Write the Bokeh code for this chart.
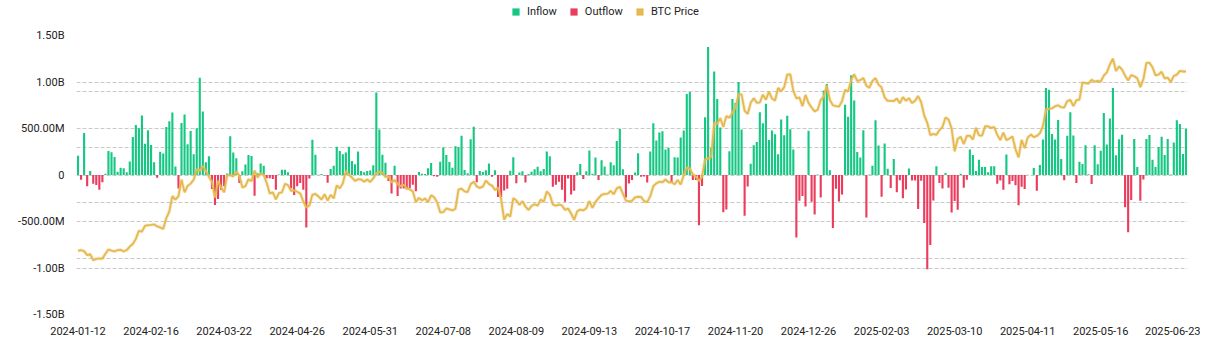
import numpy as np
import pandas as pd
from bokeh.plotting import figure
from bokeh.layouts import column
from bokeh.models import (ColumnDataSource, Range1d, FixedTicker, Grid, Legend, LegendItem)
from bokeh.embed import file_html
from bokeh.resources import INLINE

# ---------------- data ----------------
# US market trading days (categories of the x axis)
market_holidays = ["2024-01-15", "2024-02-19", "2024-03-29", "2024-05-27", "2024-06-19",
                   "2024-07-04", "2024-09-02", "2024-11-28", "2024-12-25", "2025-01-01",
                   "2025-01-09", "2025-01-20", "2025-02-17", "2025-04-18", "2025-05-26",
                   "2025-06-19"]
dates = pd.bdate_range("2024-01-12", "2025-06-27", freq="C",
                       holidays=market_holidays).strftime("%Y-%m-%d").tolist()

# daily net flow, million USD (positive = inflow, negative = outflow)
net_flow_musd = [
    206, -50, 452, -122, 43, -93, -108, -158, -79, 14,
    258, 244, 194, 36, 79, 72, 29, 144, 409, 538,
    503, 639, 337, 481, 323, 136, -29, 251, 230, 517,
    578, 673, 92, -144, 560, 650, 330, 474, 223, 503,
    1045, 684, 136, 201, -151, -323, -258, -158, -122, 15,
    418, 243, 179, -86, 40, 113, 214, 203, -223, 18,
    124, 100, -36, -36, -43, -158, 5, 57, 57, 29,
    -144, -215, -122, -86, -158, -564, -38, 378, 217, 3,
    12, -5, -84, 65, 100, 303, 257, 222, 241, 305,
    151, 115, 252, 43, 29, 43, 49, 105, 887, 488,
    217, 131, -65, -200, 100, -226, -146, -146, -152, -140,
    -106, -175, 31, 14, 11, 73, 129, -14, -20, 143,
    295, 216, 140, 79, 310, 301, 422, 53, 19, 384,
    520, -78, 44, 31, 52, 124, -18, 50, -237, -237,
    -168, -148, 45, 192, -90, 28, 40, -81, 11, 36,
    62, 88, 39, 65, 252, 202, -127, -105, -72, -158,
    -288, -37, -211, -170, 29, 117, -44, 39, 263, 13,
    187, -53, 158, 92, 5, 136, 106, 366, 494, 61,
    -242, -92, -54, 26, 235, -19, -15, -81, 254, 556,
    371, 458, 470, 274, 294, -79, 192, 188, 402, 479,
    870, 893, -55, -55, -541, -117, 622, 1376, 294, 1114,
    817, 510, -401, -370, 256, 816, 773, 1000, 490, -438,
    -123, 120, 320, 354, 676, 556, 766, 376, 479, 438,
    223, 597, 428, 637, 493, 275, -672, -277, -226, -338,
    475, -287, -426, 5, -242, 908, 978, 52, -569, -149,
    -284, -209, 755, 626, 1072, 802, 248, 188, 480, -458,
    5, 100, 589, 318, -235, 340, 66, -140, 171, -186,
    -56, -251, -156, 71, -60, -60, -365, -62, -517, -1014,
    -754, -275, 94, -86, -144, 22, -136, -402, -280, -373,
    13, -136, -50, 273, 215, 43, 165, 86, 86, 29,
    93, 93, -93, -60, -158, 221, -100, -65, -109, -326,
    -127, -150, 2, 1, 76, -170, 107, 381, 936, 917,
    442, 381, 591, 173, -56, 422, 675, 425, -86, 142,
    117, 321, 7, -96, 319, 115, 260, 667, 329, 607,
    935, 212, 385, 433, -347, -616, -268, 386, 87, -278,
    -48, 386, 431, 165, 86, 302, 412, 216, 388, 6,
    350, 589, 548, 227, 501,
]

# BTC price, thousand USD
btc_price_k = [
    42.8, 43.1, 42.7, 41.3, 41.6, 39.5, 39.9, 40.1, 40.0, 41.8,
    43.3, 42.9, 42.6, 43.1, 43.2, 42.6, 43.1, 44.3, 45.3, 47.1,
    50.0, 49.7, 51.8, 52.0, 52.1, 52.3, 51.6, 51.2, 50.7, 54.5,
    57.0, 62.4, 61.2, 62.4, 68.3, 63.8, 66.1, 66.9, 68.3, 72.1,
    71.5, 73.1, 71.4, 69.4, 67.6, 61.9, 67.9, 65.5, 63.8, 69.9,
    69.9, 69.5, 71.3, 69.7, 65.5, 66.0, 68.5, 67.8, 71.6, 69.1,
    70.6, 70.0, 67.1, 63.4, 63.8, 61.3, 63.5, 63.8, 66.8, 66.4,
    64.3, 64.5, 64.0, 63.4, 60.6, 58.3, 59.1, 62.9, 63.2, 62.3,
    61.2, 63.1, 60.8, 62.9, 61.6, 66.3, 65.2, 67.0, 71.4, 70.1,
    69.1, 67.9, 68.5, 68.4, 67.6, 68.4, 67.5, 68.8, 70.6, 71.1,
    70.8, 69.3, 69.5, 67.3, 68.2, 66.8, 66.0, 66.5, 65.2, 64.9,
    64.1, 60.3, 61.8, 60.9, 61.6, 60.3, 62.7, 62.0, 60.2, 56.6,
    56.7, 58.0, 57.7, 57.3, 57.9, 64.8, 65.1, 64.1, 63.9, 66.7,
    67.6, 65.9, 65.4, 65.8, 68.0, 66.8, 66.2, 64.6, 65.4, 61.4,
    54.0, 56.0, 55.1, 61.7, 60.9, 59.3, 60.6, 58.7, 57.5, 58.9,
    59.5, 59.0, 61.2, 60.4, 64.1, 62.9, 59.4, 59.0, 59.4, 59.1,
    57.5, 58.0, 56.2, 53.9, 57.0, 57.6, 57.3, 58.1, 60.6, 58.2,
    60.3, 61.7, 62.9, 63.2, 63.3, 64.3, 63.1, 65.2, 65.8, 63.3,
    60.8, 60.6, 60.7, 62.0, 62.2, 62.1, 60.6, 60.3, 62.4, 66.0,
    67.0, 67.6, 67.4, 68.4, 67.4, 67.4, 66.7, 68.2, 66.6, 69.9,
    72.7, 72.3, 70.2, 69.5, 67.8, 69.4, 75.6, 75.9, 76.5, 88.7,
    88.3, 90.4, 87.2, 91.1, 90.5, 92.3, 94.3, 98.9, 98.9, 93.0,
    91.9, 95.9, 97.5, 95.9, 96.0, 98.8, 97.0, 99.9, 97.4, 96.7,
    101.2, 100.0, 101.5, 106.0, 106.1, 100.2, 97.5, 97.8, 94.7, 98.7,
    95.8, 94.2, 92.8, 93.4, 96.9, 98.1, 102.1, 96.9, 95.0, 94.7,
    94.5, 96.5, 100.5, 99.9, 104.1, 106.1, 103.7, 104.0, 104.8, 102.0,
    101.3, 103.7, 104.7, 102.4, 101.4, 97.8, 96.6, 96.6, 96.5, 97.4,
    95.7, 97.9, 96.6, 97.5, 95.8, 96.6, 98.3, 96.1, 91.4, 88.7,
    84.3, 84.7, 84.4, 86.1, 87.2, 90.6, 89.9, 86.7, 78.5, 82.9,
    83.7, 81.1, 84.0, 84.1, 82.7, 86.9, 84.2, 84.1, 87.5, 87.4,
    86.9, 87.2, 84.4, 82.5, 85.2, 82.5, 83.1, 83.8, 79.2, 76.3,
    82.6, 79.6, 83.4, 84.5, 83.6, 84.0, 84.9, 87.5, 93.4, 93.7,
    93.9, 94.6, 95.0, 94.3, 94.2, 96.5, 96.9, 94.7, 96.8, 97.0,
    103.2, 102.9, 102.8, 104.1, 103.5, 103.7, 103.5, 105.6, 106.8, 109.6,
    111.7, 107.3, 108.9, 107.8, 105.6, 103.9, 105.8, 105.4, 104.7, 101.5,
    104.3, 110.2, 110.2, 108.6, 105.7, 106.0, 107.0, 104.6, 104.9, 103.3,
    105.5, 106.0, 107.3, 107.1, 107.1,
]

x_tick_labels = ["2024-01-12", "2024-02-16", "2024-03-22", "2024-04-26", "2024-05-31",
                 "2024-07-08", "2024-08-09", "2024-09-13", "2024-10-17", "2024-11-20",
                 "2024-12-26", "2025-02-03", "2025-03-10", "2025-04-11", "2025-05-16",
                 "2025-06-23"]
y_tick_values = [-1500, -1000, -500, 0, 500, 1000, 1500]
y_tick_labels = ["-1.50B", "-1.00B", "-500.00M", "0", "500.00M", "1.00B", "1.50B"]
price_grid_values = [20000, 40000, 60000, 80000, 100000, 120000]
series_names = ["Inflow", "Outflow", "BTC Price"]

if not (len(dates) == len(net_flow_musd) == len(btc_price_k)):
    raise SystemExit(f"length mismatch {len(dates)} {len(net_flow_musd)} {len(btc_price_k)}")

# ---------------- styling ----------------
GREEN = "#16C784"
RED = "#EA3D5E"
GOLD = "#E6B94E"
GRID = "#c9c9c9"
TEXT = "#222222"
FONT = "Roboto"
W = 1200
LEGEND_H = 25

n = len(dates)
flow = np.array(net_flow_musd, dtype=float)
src = ColumnDataSource(dict(
    x=np.arange(n),
    inflow=np.where(flow > 0, flow, 0.0),
    outflow=np.where(flow < 0, flow, 0.0),
    price=np.array(btc_price_k) * 1000.0,
))

# ---------- legend strip ----------
lg = figure(width=W, height=LEGEND_H, output_backend="svg", toolbar_location=None,
            x_range=Range1d(0, 1), y_range=Range1d(0, 1),
            x_axis_location=None, y_axis_location=None, min_border=0)
lg.outline_line_color = None
lg.grid.visible = False
keys = [lg.vbar(x="x", top=col, width=0.7, source=src, fill_color=c, line_color=None,
                visible=False)
        for col, c in (("inflow", GREEN), ("outflow", RED), ("price", GOLD))]
legend = Legend(items=[LegendItem(label=nm, renderers=[r]) for nm, r in zip(series_names, keys)],
                orientation="horizontal", location=(435, LEGEND_H - 18),
                border_line_color=None, background_fill_alpha=0,
                padding=0, margin=0, spacing=12, label_standoff=7,
                glyph_width=9, glyph_height=9, label_height=12,
                label_text_font=FONT, label_text_font_size="11px",
                label_text_color=TEXT)
lg.add_layout(legend)

# ---------- main chart ----------
p = figure(width=W, height=356 - LEGEND_H, output_backend="svg", toolbar_location=None,
           x_range=Range1d(-0.5, n - 0.5), y_range=Range1d(-1500, 1500),
           min_border_left=76, min_border_right=13, min_border_top=35 - LEGEND_H,
           min_border_bottom=42)
p.extra_y_ranges = {"price": Range1d(20000, 120000)}
p.outline_line_color = None
p.xgrid.visible = False

p.ygrid.ticker = FixedTicker(ticks=y_tick_values)
p.ygrid.grid_line_color = GRID
p.ygrid.grid_line_dash = "4 2"
p.ygrid.grid_line_width = 1

price_grid = Grid(dimension=1, ticker=FixedTicker(ticks=price_grid_values),
                  y_range_name="price", grid_line_color=GRID, grid_line_dash="4 2",
                  grid_line_width=1)
p.add_layout(price_grid)

for ax in (p.xaxis, p.yaxis):
    ax.axis_line_color = None
    ax.major_tick_line_color = None
    ax.minor_tick_line_color = None
    ax.major_label_text_font = FONT
    ax.major_label_text_font_size = "11px"
    ax.major_label_text_color = TEXT

p.yaxis.ticker = FixedTicker(ticks=y_tick_values)
p.yaxis.major_label_overrides = {v: s for v, s in zip(y_tick_values, y_tick_labels)}
p.yaxis.major_label_standoff = 6

x_tick_pos = [dates.index(d) for d in x_tick_labels]
p.xaxis.ticker = FixedTicker(ticks=x_tick_pos)
p.xaxis.major_label_overrides = {i: d for i, d in zip(x_tick_pos, x_tick_labels)}
p.xaxis.major_label_standoff = 6

p.vbar(x="x", top="inflow", width=0.7, source=src, fill_color=GREEN, line_color=None)
p.vbar(x="x", top="outflow", width=0.7, source=src, fill_color=RED, line_color=None)
p.line(x="x", y="price", y_range_name="price", source=src, line_color=GOLD,
       line_width=3.5, line_alpha=0.3)
p.line(x="x", y="price", y_range_name="price", source=src, line_color=GOLD,
       line_width=1.8)

layout = column(lg, p, spacing=0)
open("out.html", "w").write(file_html(layout, INLINE))
